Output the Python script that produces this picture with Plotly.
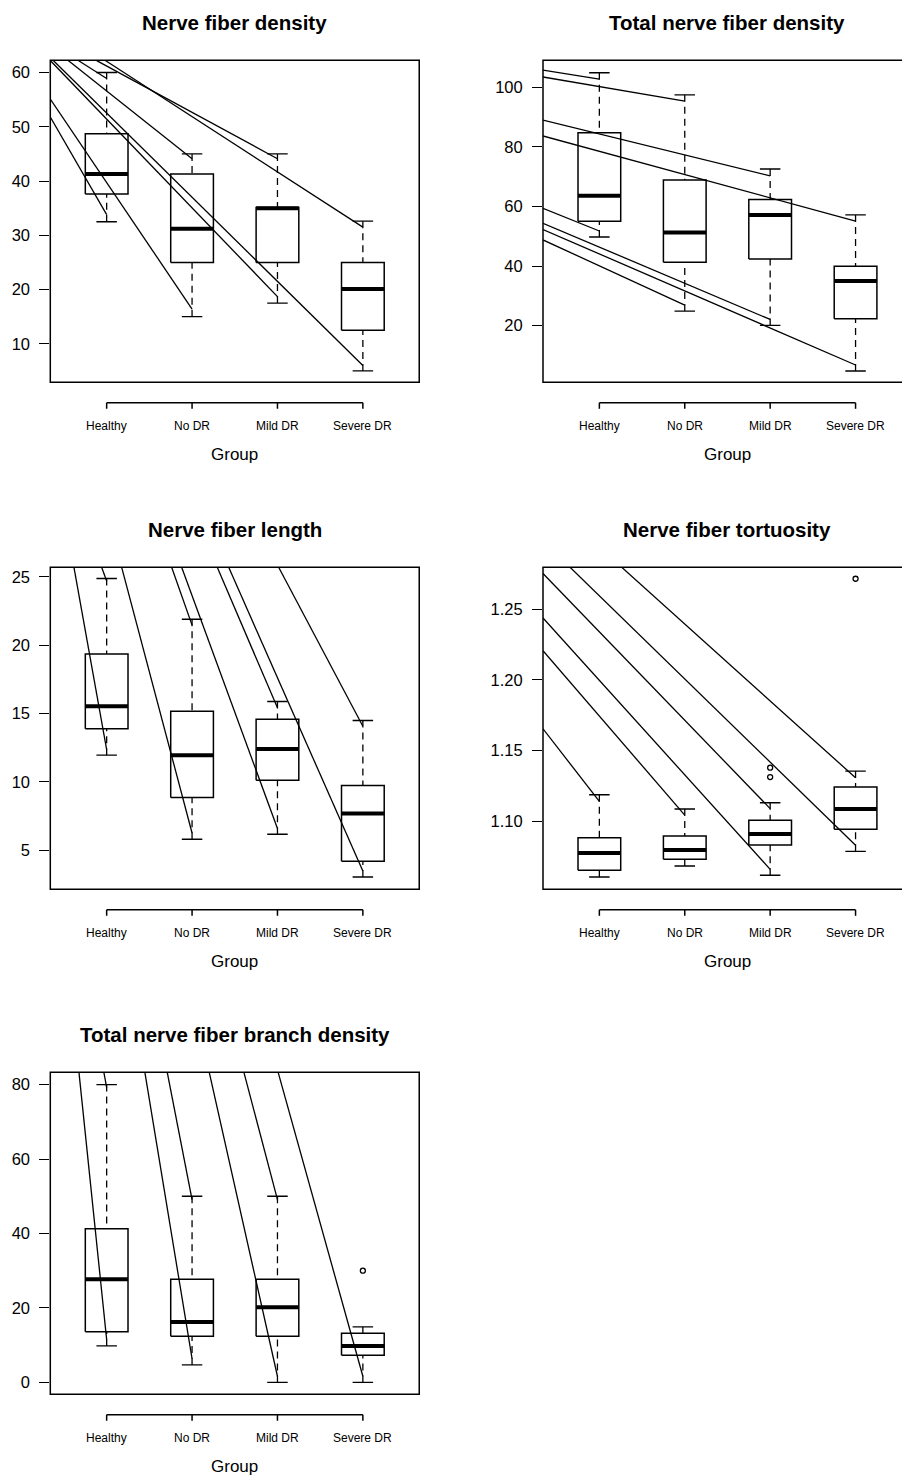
import plotly.graph_objects as go

W, H = 902, 1475
FONT = "Liberation Sans, Arial, Helvetica, sans-serif"

groups = ["Healthy", "No DR", "Mild DR", "Severe DR"]
titles = ["Nerve fiber density", "Total nerve fiber density", "Nerve fiber length",
          "Nerve fiber tortuosity", "Total nerve fiber branch density"]
x_label = "Group"

# ---- Panel 1: Nerve fiber density ----
nfd_lower = [32.5, 15.0, 17.5, 5.0]
nfd_q1 = [37.6, 25.0, 25.0, 12.5]
nfd_median = [41.3, 31.2, 35.0, 20.1]
nfd_q3 = [48.7, 41.3, 35.1, 25.0]
nfd_upper = [60.0, 45.0, 45.0, 32.6]
nfd_out_x = []
nfd_out_y = []
nfd_seg_x0 = [0.34, 0.34, 0.34, 0.375, 0.55, 0.668, 0.883, 0.985]
nfd_seg_y0 = [51.8, 55.1, 62.2, 62.2, 62.2, 62.2, 62.2, 62.2]
nfd_seg_x1 = [1.0, 2.0, 3.0, 4.0, 2.0, 1.0, 3.0, 4.0]
nfd_seg_y1 = [33.8, 16.4, 18.7, 6.0, 44.1, 58.9, 44.1, 31.5]

# ---- Panel 2: Total nerve fiber density ----
tnfd_lower = [49.8, 24.9, 20.1, 4.8]
tnfd_q1 = [55.1, 41.3, 42.4, 22.3]
tnfd_median = [63.6, 51.3, 57.2, 35.0]
tnfd_q3 = [84.8, 68.9, 62.4, 40.0]
tnfd_upper = [104.9, 97.5, 72.6, 57.2]
tnfd_out_x = []
tnfd_out_y = []
tnfd_seg_x0 = [0.34, 0.34, 0.34, 0.34, 0.34, 0.34, 0.34, 0.34]
tnfd_seg_y0 = [105.8, 103.5, 89.0, 83.7, 59.4, 54.4, 52.3, 48.8]
tnfd_seg_x1 = [1.0, 2.0, 3.0, 4.0, 1.0, 3.0, 4.0, 2.0]
tnfd_seg_y1 = [102.8, 95.4, 70.3, 55.1, 51.8, 22.1, 6.8, 26.9]

# ---- Panel 3: Nerve fiber length ----
nfl_lower = [11.96, 5.81, 6.18, 3.05]
nfl_q1 = [13.9, 8.86, 10.13, 4.2]
nfl_median = [15.54, 11.96, 12.42, 7.69]
nfl_q3 = [19.35, 15.18, 14.59, 9.74]
nfl_upper = [24.88, 21.9, 15.88, 14.49]
nfl_out_x = []
nfl_out_y = []
nfl_seg_x0 = [0.617, 0.941, 1.176, 1.761, 1.878, 2.295, 2.429, 3.014]
nfl_seg_y0 = [25.7, 25.7, 25.7, 25.7, 25.7, 25.7, 25.7, 25.7]
nfl_seg_x1 = [1.0, 1.0, 2.0, 2.0, 3.0, 3.0, 4.0, 4.0]
nfl_seg_y1 = [12.37, 24.7, 6.27, 21.47, 6.6, 15.42, 3.49, 14.08]

# ---- Panel 4: Nerve fiber tortuosity ----
nft_lower = [1.0607, 1.0685, 1.0619, 1.0788]
nft_q1 = [1.0654, 1.0732, 1.0833, 1.0944]
nft_median = [1.0777, 1.0798, 1.0910, 1.1087]
nft_q3 = [1.0885, 1.0897, 1.1007, 1.1242]
nft_upper = [1.1188, 1.1087, 1.1132, 1.1355]
nft_out_x = [3, 3, 4]
nft_out_y = [1.1379, 1.1313, 1.2714]
nft_seg_x0 = [0.34, 0.34, 0.34, 0.34, 0.657, 1.262]
nft_seg_y0 = [1.1654, 1.2206, 1.2437, 1.2751, 1.2795, 1.2795]
nft_seg_x1 = [1.0, 2.0, 3.0, 3.0, 4.0, 4.0]
nft_seg_y1 = [1.1141, 1.1044, 1.0661, 1.109, 1.0831, 1.1308]

# ---- Panel 5: Total nerve fiber branch density ----
tnbd_lower = [9.8, 4.7, 0.0, 0.0]
tnbd_q1 = [13.6, 12.4, 12.4, 7.3]
tnbd_median = [27.7, 16.2, 20.2, 9.8]
tnbd_q3 = [41.3, 27.7, 27.7, 13.2]
tnbd_upper = [80.0, 50.0, 50.0, 14.9]
tnbd_out_x = [4]
tnbd_out_y = [30.0]
tnbd_seg_x0 = [0.676, 0.968, 1.448, 1.71, 2.202, 2.608, 3.009]
tnbd_seg_y0 = [83.2, 83.2, 83.2, 83.2, 83.2, 83.2, 83.2]
tnbd_seg_x1 = [1.0, 1.0, 2.0, 2.0, 3.0, 3.0, 4.0]
tnbd_seg_y1 = [11.5, 79.2, 6.4, 49.1, 1.65, 49.1, 1.65]

panels = [
    dict(lower=nfd_lower, q1=nfd_q1, med=nfd_median, q3=nfd_q3, upper=nfd_upper,
         ox=nfd_out_x, oy=nfd_out_y, sx0=nfd_seg_x0, sy0=nfd_seg_y0, sx1=nfd_seg_x1, sy1=nfd_seg_y1,
         yrange=[2.9, 62.25], dtick=10, fmt=None, pos=(0, 0)),
    dict(lower=tnfd_lower, q1=tnfd_q1, med=tnfd_median, q3=tnfd_q3, upper=tnfd_upper,
         ox=tnfd_out_x, oy=tnfd_out_y, sx0=tnfd_seg_x0, sy0=tnfd_seg_y0, sx1=tnfd_seg_x1, sy1=tnfd_seg_y1,
         yrange=[1.0, 109.1], dtick=20, fmt=None, pos=(0, 1)),
    dict(lower=nfl_lower, q1=nfl_q1, med=nfl_median, q3=nfl_q3, upper=nfl_upper,
         ox=nfl_out_x, oy=nfl_out_y, sx0=nfl_seg_x0, sy0=nfl_seg_y0, sx1=nfl_seg_x1, sy1=nfl_seg_y1,
         yrange=[2.15, 25.7], dtick=5, fmt=None, pos=(1, 0)),
    dict(lower=nft_lower, q1=nft_q1, med=nft_median, q3=nft_q3, upper=nft_upper,
         ox=nft_out_x, oy=nft_out_y, sx0=nft_seg_x0, sy0=nft_seg_y0, sx1=nft_seg_x1, sy1=nft_seg_y1,
         yrange=[1.052, 1.2795], dtick=0.05, fmt=".2f", pos=(1, 1)),
    dict(lower=tnbd_lower, q1=tnbd_q1, med=tnbd_median, q3=tnbd_q3, upper=tnbd_upper,
         ox=tnbd_out_x, oy=tnbd_out_y, sx0=tnbd_seg_x0, sy0=tnbd_seg_y0, sx1=tnbd_seg_x1, sy1=tnbd_seg_y1,
         yrange=[-3.2, 83.3], dtick=20, fmt=None, pos=(2, 0)),
]

# layout geometry (pixels)
col_left = [50.3, 543.0]
row_top = [60.3, 567.3, 1072.3]
box_h = 322.0
S = 85.4                # pixels per group unit
XR = (0.34, 4.66)
BW = 0.25               # half box width
CW = 0.12               # half cap width

fig = go.Figure()
shapes = []
annotations = []


def py2p(py):
    return 1 - py / H


for k, p in enumerate(panels):
    n = k + 1
    sfx = "" if n == 1 else str(n)
    xs, ys = "x" + sfx, "y" + sfx
    row, col = p["pos"]
    left = col_left[col]
    top = row_top[row]
    right_full = left + (XR[1] - XR[0]) * S
    right_vis = min(W, right_full)
    xend = XR[0] + (right_vis - left) / S
    pos_x = list(range(1, len(groups) + 1))

    bx, by = [], []
    mx, my = [], []
    wx, wy = [], []
    cx, cy = [], []
    for i, lo, a, m, b, hi in zip(pos_x, p["lower"], p["q1"], p["med"], p["q3"], p["upper"]):
        bx += [i - BW, i + BW, i + BW, i - BW, i - BW, None]
        by += [a, a, b, b, a, None]
        mx += [i - BW, i + BW, None]
        my += [m, m, None]
        wx += [i, i, None, i, i, None]
        wy += [hi, b, None, lo, a, None]
        cx += [i - CW, i + CW, None, i - CW, i + CW, None]
        cy += [hi, hi, None, lo, lo, None]
    sx, sy = [], []
    for a, b, c, d in zip(p["sx0"], p["sy0"], p["sx1"], p["sy1"]):
        sx += [a, c, None]
        sy += [b, d, None]

    common = dict(xaxis=xs, yaxis=ys, showlegend=False, hoverinfo="skip")
    fig.add_trace(go.Scatter(x=wx, y=wy, mode="lines",
                             line=dict(color="black", width=1.3, dash="7px,5px"), **common))
    fig.add_trace(go.Scatter(x=cx, y=cy, mode="lines", line=dict(color="black", width=1.4), **common))
    fig.add_trace(go.Scatter(x=bx, y=by, mode="lines", line=dict(color="black", width=1.5), **common))
    fig.add_trace(go.Scatter(x=mx, y=my, mode="lines", line=dict(color="black", width=4), **common))
    if p["ox"]:
        fig.add_trace(go.Scatter(x=p["ox"], y=p["oy"], mode="markers",
                                 marker=dict(symbol="circle-open", size=5, color="black",
                                             line=dict(width=1.3, color="black")), **common))
    fig.add_trace(go.Scatter(x=sx, y=sy, mode="lines", line=dict(color="black", width=1.3), **common))

    fig.update_layout({
        "xaxis" + sfx: dict(domain=[left / W, right_vis / W], range=[XR[0], xend],
                            visible=False, anchor=ys, fixedrange=True),
        "yaxis" + sfx: dict(domain=[py2p(top + box_h), py2p(top)], range=p["yrange"],
                            anchor=xs, dtick=p["dtick"], tick0=0, tickformat=p["fmt"],
                            ticks="outside", ticklen=10, tickwidth=1.4, tickcolor="black",
                            showgrid=False, zeroline=False, showline=False,
                            ticklabelstandoff=6,
                            tickfont=dict(family=FONT, size=16.5, color="black")),
    })

    shapes.append(dict(type="rect", xref=xs + " domain", yref=ys + " domain",
                       x0=0, x1=(right_full - left) / (right_vis - left), y0=0, y1=1,
                       line=dict(color="black", width=1.5), layer="above"))
    ax_y = py2p(top + box_h + 20.5)
    shapes.append(dict(type="line", xref=xs, yref="paper", x0=pos_x[0], x1=pos_x[-1],
                       y0=ax_y, y1=ax_y, line=dict(color="black", width=1.5)))
    for i, g in zip(pos_x, groups):
        shapes.append(dict(type="line", xref=xs, yref="paper", x0=i, x1=i,
                           y0=ax_y, y1=py2p(top + box_h + 26.5), line=dict(color="black", width=1.5)))
        annotations.append(dict(x=i, y=py2p(top + box_h + 43.5), xref=xs, yref="paper",
                                text=g, showarrow=False, yanchor="middle", xanchor="center",
                                font=dict(family=FONT, size=12, color="black")))
    mid = (XR[0] + XR[1]) / 2
    annotations.append(dict(x=mid, y=py2p(top + box_h + 72), xref=xs, yref="paper",
                            text=x_label, showarrow=False, yanchor="middle", xanchor="center",
                            font=dict(family=FONT, size=17, color="black")))
    annotations.append(dict(x=mid, y=py2p(top - 37.5), xref=xs, yref="paper",
                            text="<b>" + titles[k] + "</b>", showarrow=False,
                            yanchor="middle", xanchor="center",
                            font=dict(family=FONT, size=20.5, color="black")))

fig.update_layout(width=W, height=H, margin=dict(l=0, r=0, t=0, b=0),
                  paper_bgcolor="white", plot_bgcolor="white",
                  shapes=shapes, annotations=annotations, showlegend=False)

fig.write_html("out.html")
